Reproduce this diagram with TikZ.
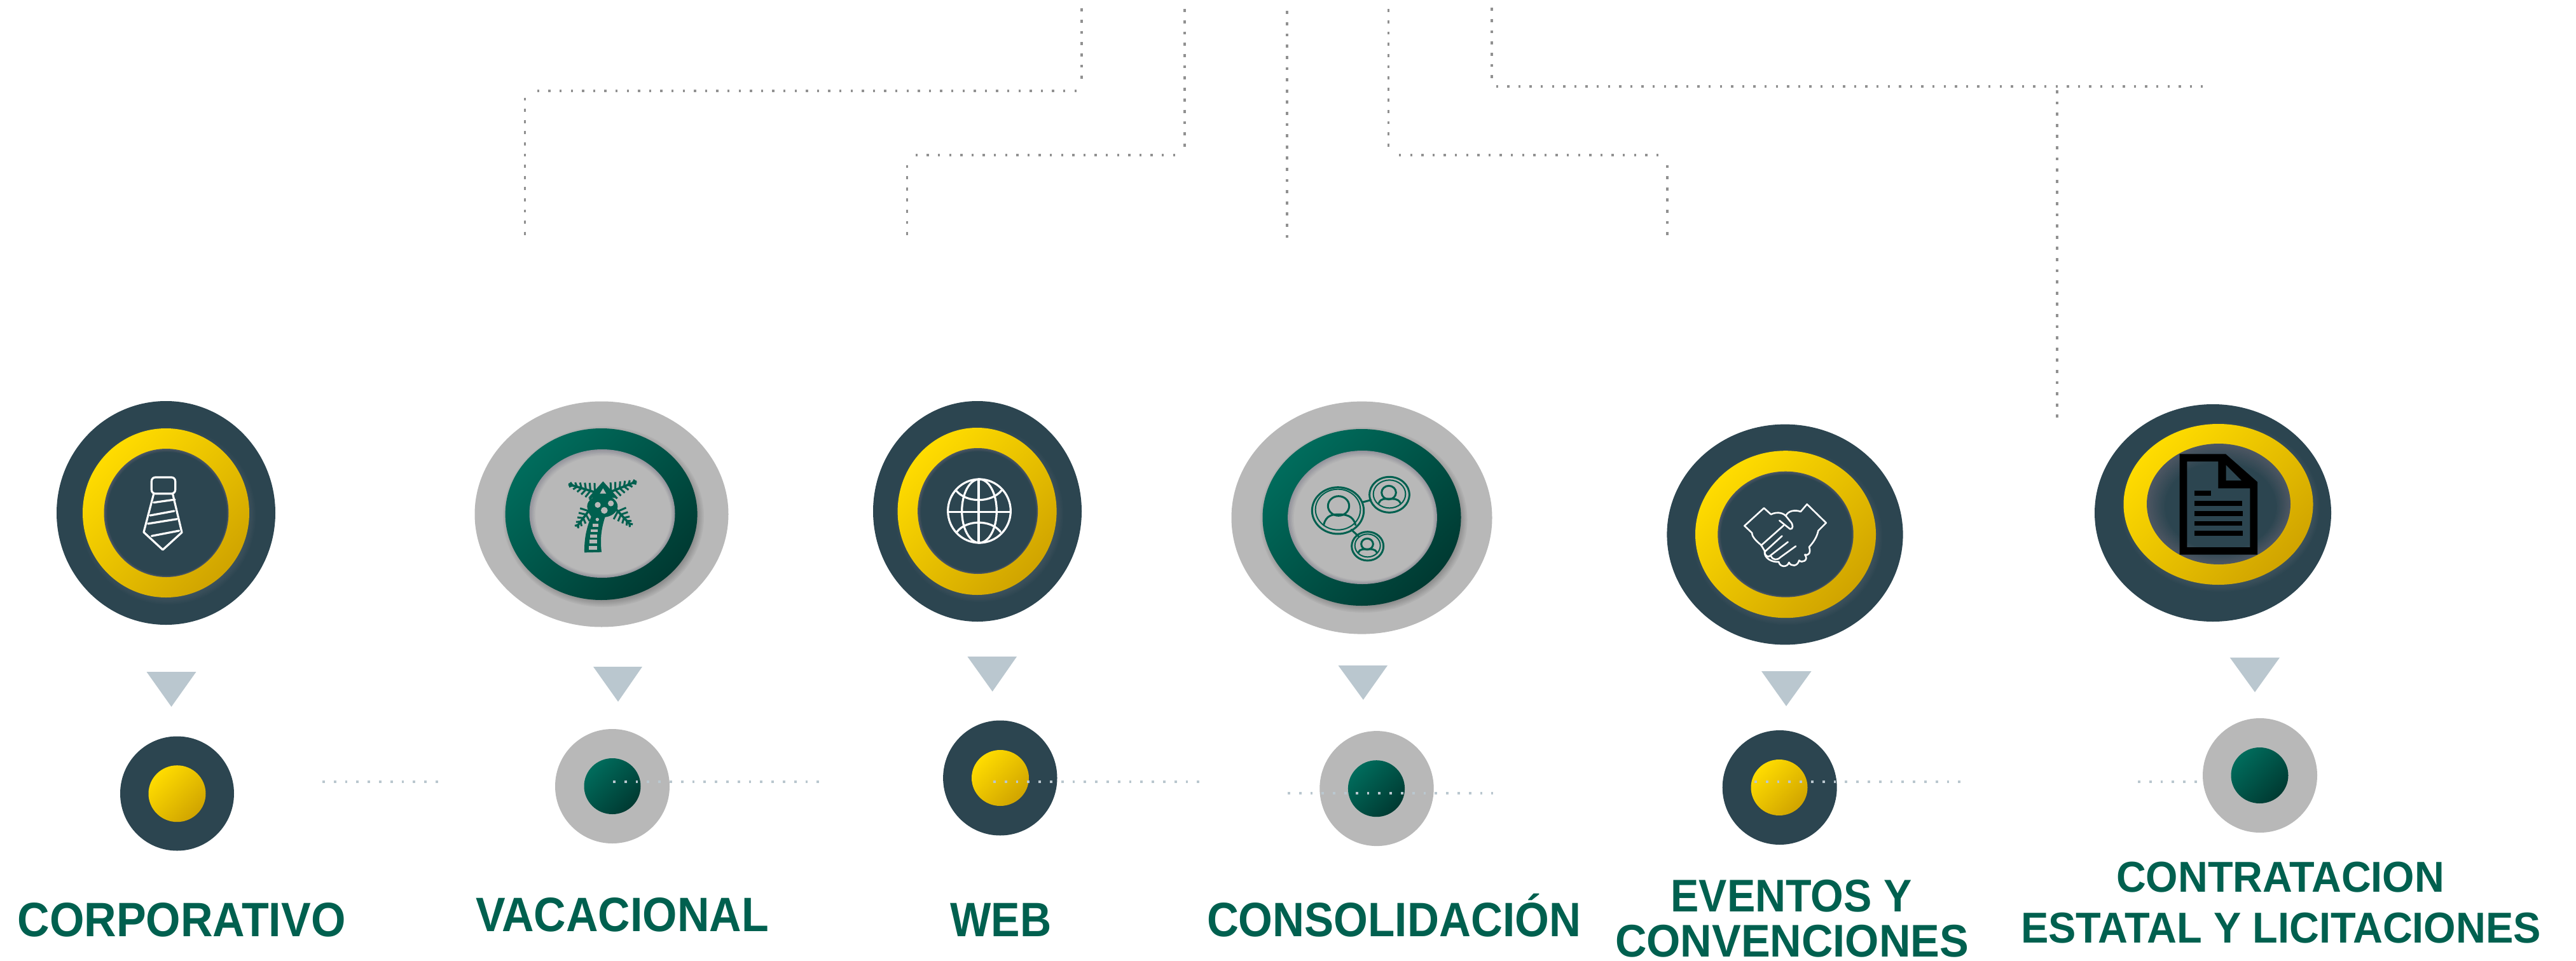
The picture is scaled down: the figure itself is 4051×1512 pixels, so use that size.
\documentclass[tikz,border=0pt]{standalone}
\usepackage{graphicx}
\usepackage{fontspec}
\setmainfont{Liberation Sans}
\usetikzlibrary{shapes.geometric}
\definecolor{slate}{HTML}{2C4550}
\definecolor{silver}{HTML}{B8B8B8}
\definecolor{tri}{HTML}{BAC7CF}
\definecolor{txt}{HTML}{00604F}
\definecolor{goldA}{HTML}{FFDC00}
\definecolor{goldB}{HTML}{D0A400}
\definecolor{greenA}{HTML}{006C5C}
\definecolor{greenB}{HTML}{003A32}
\definecolor{glowD}{HTML}{4C5662}
\definecolor{glowG}{HTML}{94949C}
\definecolor{haloD}{HTML}{6E7884}
\tikzset{
  x=1pt,y=-1pt,
  disc/.style={ellipse,inner sep=0pt,outer sep=0pt,draw=none},
  darkdisc/.style={disc,fill=slate},
  greydisc/.style={disc,fill=silver},
  goldring/.style={disc,shade,top color=goldA,bottom color=goldB,shading angle=45},
  greenring/.style={disc,shade,top color=greenA,bottom color=greenB,shading angle=45},
  topv/.style={draw=black!43,line width=3.4pt,dash pattern=on 4.8pt off 12.8pt},
  toph/.style={draw=black!43,line width=4.6pt,dash pattern=on 3.4pt off 14.2pt},
  lowdots/.style={draw=tri,line width=4.4pt,dash pattern=on 3.8pt off 14pt},
  arrowtri/.style={fill=tri,draw=none},
  lbl/.style={anchor=base,inner sep=0pt,outer sep=0pt,text=txt},
  icw/.style={draw=white,line width=3.2pt,line join=round,line cap=round},
  icg/.style={draw=txt,line width=3pt,line join=round,line cap=round},
}
\newcommand\ellnode[6]{\node[#1,minimum width=2*#5pt,minimum height=2*#6pt] (#2) at (#3,#4) {};}
% cx cy rx ry colour opacity
\newcommand\softshadow[6]{\foreach \k in {0,...,6}{\fill[#5,opacity=#6] (#1+3,#2+4) ellipse [x radius=#3+7-2*\k,y radius=#4+7-2*\k];}}
% cx cy rx ry glow base width steps
\newcommand\innerglow[8]{\foreach \k in {1,...,#8}{\pgfmathsetmacro\mixv{100-100*\k/#8}\fill[color=#5!\mixv!#6] (#1+\k*0.25,#2+\k*0.3) ellipse [x radius=#3-\k*#7/#8,y radius=#4-\k*#7/#8];}}
\newcommand\lbltxt[3]{\resizebox{#2pt}{\height}{\fontsize{#1pt}{#1pt}\selectfont\bfseries #3}}
% x y angle length ticks
\newcommand\frond[5]{\begin{scope}[shift={(#1,#2)},rotate=#3]
  \draw[draw=txt,line width=3.6pt,line cap=butt] (0,0)--(#4,0);
  \foreach \t in {#5}{\pgfmathsetmacro\hh{44*(1.12-\t/#4)}\draw[draw=txt,line width=3pt,line cap=butt] (\t+14,\hh)--(\t,0)--(\t+14,-\hh);}
\end{scope}}
\begin{document}
\begin{tikzpicture}
\useasboundingbox (0,0) rectangle (4051,1512);
\fill[white] (0,0) rectangle (4051,1512);
% --- top dotted routes
\coordinate (a0) at (1701,13.5);\coordinate (a1) at (1701,124);\coordinate (a2) at (1693,143);\coordinate (a3) at (845,143);\coordinate (a4) at (825.5,153.5);\coordinate (a5) at (825.5,370);
\coordinate (b0) at (1863,14.5);\coordinate (b1) at (1863,231);\coordinate (b2) at (1848,244);\coordinate (b3) at (1439,244);\coordinate (b4) at (1426.6,259.5);\coordinate (b5) at (1426.6,371);
\coordinate (c0) at (2024,17.5);\coordinate (c1) at (2024,375);
\coordinate (d0) at (2183.7,14.5);\coordinate (d1) at (2183.7,231);\coordinate (d2) at (2200,243.8);\coordinate (d3) at (2609,243.8);\coordinate (d4) at (2622,259.5);\coordinate (d5) at (2622,371);
\coordinate (e0) at (2346,12.5);\coordinate (e1) at (2346,124);\coordinate (e2) at (2352.5,136);\coordinate (e3) at (3464,136);\coordinate (e4) at (3235,142);\coordinate (e5) at (3235,658);
\draw[topv] (a0)--(a1);\draw[toph] (a2)--(a3);\draw[topv] (a4)--(a5);
\draw[topv] (b0)--(b1);\draw[toph] (b2)--(b3);\draw[topv] (b4)--(b5);
\draw[topv] (c0)--(c1);
\draw[topv] (d0)--(d1);\draw[toph] (d2)--(d3);\draw[topv] (d4)--(d5);
\draw[topv] (e0)--(e1);\draw[toph] (e2)--(e3);\draw[topv] (e4)--(e5);
% --- big discs
\ellnode{darkdisc}{o1}{261}{807}{172}{176}
\softshadow{261}{807}{131}{133}{haloD}{.05}
\ellnode{goldring}{r1}{261}{807}{131}{133}
\ellnode{disc,fill=glowD}{i1}{261.5}{807}{98}{101}
\innerglow{261.5}{807}{98}{101}{glowD}{slate}{4}{4}
\ellnode{greydisc}{o2}{946}{809}{199.5}{177.5}
\softshadow{946}{809}{151}{135}{black}{.04}
\ellnode{greenring}{r2}{945.6}{809}{151}{135}
\ellnode{disc,fill=glowG}{i2}{947}{808}{114.5}{101}
\innerglow{947}{808}{114.5}{101}{glowG}{silver}{8}{7}
\ellnode{darkdisc}{o3}{1537}{804.5}{164}{173.5}
\softshadow{1537}{804.5}{125}{131.5}{haloD}{.05}
\ellnode{goldring}{r3}{1536.6}{804.5}{125}{131.5}
\ellnode{disc,fill=glowD}{i3}{1537.6}{804}{94.5}{99}
\innerglow{1537.6}{804}{94.5}{99}{glowD}{slate}{4}{4}
\ellnode{greydisc}{o4}{2141.5}{814.6}{205}{183}
\softshadow{2141.5}{814}{156}{139}{black}{.04}
\ellnode{greenring}{r4}{2141.5}{814}{156}{139}
\ellnode{disc,fill=glowG}{i4}{2142.5}{814}{117.4}{105}
\innerglow{2142.5}{814}{117.4}{105}{glowG}{silver}{8}{7}
\ellnode{darkdisc}{o5}{2807}{841}{185.6}{173.4}
\softshadow{2808}{840.7}{142}{131.5}{haloD}{.05}
\ellnode{goldring}{r5}{2808}{840.7}{142}{131.5}
\ellnode{disc,fill=glowD}{i5}{2808}{840.7}{106.7}{99}
\innerglow{2808}{840.7}{106.7}{99}{glowD}{slate}{4}{4}
\ellnode{darkdisc}{o6}{3480}{807}{186}{171}
\softshadow{3488.5}{793.5}{149}{126.5}{haloD}{.05}
\ellnode{goldring}{r6}{3488.5}{793.5}{149}{126.5}
\ellnode{disc,fill=glowD}{i6}{3489}{793}{113}{95}
\innerglow{3489}{793}{113}{95}{glowD}{slate}{26}{13}
% --- triangles
\fill[arrowtri] (230.5,1057)--(308.5,1057)--(269.5,1112)--cycle;
\fill[arrowtri] (933,1049)--(1010,1049)--(972,1104)--cycle;
\fill[arrowtri] (1521.4,1033)--(1599,1033)--(1560.7,1088)--cycle;
\fill[arrowtri] (2104.5,1047)--(2182,1047)--(2143.8,1101)--cycle;
\fill[arrowtri] (2770,1056)--(2848.5,1056)--(2809,1111)--cycle;
\fill[arrowtri] (3506.7,1034.6)--(3585,1034.6)--(3546,1089)--cycle;
% --- small discs
\ellnode{darkdisc}{s1}{278.5}{1248.5}{89.5}{90}
\ellnode{goldring}{n1}{278.5}{1248.7}{45}{44.5}
\ellnode{greydisc}{s2}{963}{1237}{90}{90}
\ellnode{greenring}{n2}{963}{1237}{44.5}{44}
\ellnode{darkdisc}{s3}{1572.8}{1224}{89.7}{90.5}
\ellnode{goldring}{n3}{1573}{1224}{45}{44}
\ellnode{greydisc}{s4}{2165}{1240.6}{89.7}{90.5}
\ellnode{greenring}{n4}{2164.5}{1240.7}{44.6}{44.5}
\ellnode{darkdisc}{s5}{2798.7}{1239}{90}{90}
\ellnode{goldring}{n5}{2798}{1239}{44.5}{44}
\ellnode{greydisc}{s6}{3554}{1220}{90}{90}
\ellnode{greenring}{n6}{3553.5}{1220}{45}{44}
% --- lower dotted runs
\coordinate (l1a) at (507,1230);\coordinate (l1b) at (692,1230);
\coordinate (l2a) at (964,1230);\coordinate (l2b) at (1289,1230);
\coordinate (l3a) at (1562,1230);\coordinate (l3b) at (1887,1230);
\coordinate (l4a) at (2025,1248);\coordinate (l4b) at (2348,1248);
\coordinate (l5a) at (2759,1230);\coordinate (l5b) at (3085,1230);
\coordinate (l6a) at (3362,1230);\coordinate (l6b) at (3461,1230);
\draw[lowdots] (l1a)--(l1b);\draw[lowdots] (l2a)--(l2b);\draw[lowdots] (l3a)--(l3b);
\draw[lowdots] (l4a)--(l4b);\draw[lowdots] (l5a)--(l5b);\draw[lowdots] (l6a)--(l6b);
% --- tie
\begin{scope}[shift={(130,680)},scale=1/3]
  \draw[icw,rounded corners=6pt] (325,213) rectangle (437,290);
  \draw[icw] (335,292)--(288,472)--(378,555)--(468,473)--(425,292);
  \draw[icw] (335,332)--(435,318);
  \draw[icw] (318,393)--(432,372);
  \draw[icw] (308,432)--(445,410);
  \draw[icw] (325,490)--(455,465);
\end{scope}
% --- palm
\begin{scope}[shift={(840,700)},scale=1/3]
  \frond{315}{232}{163}{160}{30,52,74,96,118,140}
  \frond{335}{232}{22}{160}{30,52,74,96,118,140}
  \frond{272}{292}{233}{118}{25,46,67,88,106}
  \frond{378}{295}{-47}{115}{25,46,67,88,104}
  \fill[txt] (325,172)--(395,250)--(255,250)--cycle;
  \fill[silver] (325,205)--(340,230)--(310,230)--cycle;
  \fill[txt] (322,290) ellipse [x radius=72,y radius=52];
  \fill[txt] (237,508) .. controls (235,420) and (258,360) .. (280,315) -- (340,325) .. controls (318,385) and (310,440) .. (318,506) -- cycle;
  \foreach \ya/\yb/\xa/\xb in {476/494/258/297,448/464/260/297,424/438/263/298,398/412/268/300,372/386/276/304}{\fill[silver] (\xa,\ya) rectangle (\xb,\yb);}
  \fill[silver] (300,283) circle [radius=14];
  \fill[silver] (331,309) circle [radius=16];
  \fill[silver] (362,276) circle [radius=14];
  \fill[silver] (298,352) circle [radius=8];
\end{scope}
% --- globe
\begin{scope}[shift={(1470,730)},scale=1/3]
  \draw[icw] (210,222) circle [x radius=148,y radius=150];
  \draw[icw] (210,222) ellipse [x radius=82,y radius=150];
  \draw[icw] (62,227)--(358,227);
  \draw[icw] (207,72)--(207,372);
  \draw[icw] (100,125) .. controls (150,185) and (265,185) .. (315,125);
  \draw[icw] (105,320) .. controls (150,262) and (265,262) .. (310,320);
\end{scope}
% --- people
\begin{scope}[shift={(2030,720)},scale=1/3]
  \draw[icg] (222,250) ellipse [x radius=122,y radius=110];
  \draw[icg,line width=2pt] (222,245) ellipse [x radius=106,y radius=96];
  \draw[icg] (225,228) ellipse [x radius=50,y radius=46];
  \draw[icg] (155,318) .. controls (165,270) and (200,268) .. (225,268) .. controls (255,268) and (295,272) .. (305,318);
  \draw[icg] (465,175) ellipse [x radius=94,y radius=84];
  \draw[icg,line width=2pt] (465,172) ellipse [x radius=76,y radius=66];
  \draw[icg] (462,165) ellipse [x radius=34,y radius=32];
  \draw[icg] (415,215) .. controls (425,190) and (445,195) .. (462,195) .. controls (480,195) and (505,190) .. (517,215);
  \draw[icg] (362,418) ellipse [x radius=75,y radius=68];
  \draw[icg,line width=2pt] (362,415) ellipse [x radius=60,y radius=54];
  \draw[icg] (360,408) ellipse [x radius=28,y radius=26];
  \draw[icg] (318,448) .. controls (325,430) and (345,432) .. (360,432) .. controls (378,432) and (398,430) .. (406,448);
  \draw[icg] (340,210)--(378,200);
  \draw[icg] (285,340)--(320,372);
\end{scope}
% --- handshake
\begin{scope}[shift={(2720,770)},scale=1/3]
  \begin{scope}[icw/.append style={line width=2.6pt}]
  \draw[icw] (70,172)--(162,88)--(195,118) .. controls (215,108) and (245,105) .. (265,125) .. controls (275,100) and (310,95) .. (335,105)--(365,70)--(455,158)--(418,195) .. controls (412,225) and (395,250) .. (375,272) .. controls (385,300) and (370,315) .. (355,308) .. controls (375,335) and (340,350) .. (328,335) .. controls (320,365) and (290,365) .. (280,345) .. controls (270,372) and (235,365) .. (232,342) .. controls (200,345) and (160,325) .. (165,290) -- (148,262) .. controls (120,240) and (105,220) .. (105,205) -- cycle;
  \draw[icw] (235,147)--(285,187) .. controls (300,190) and (302,165) .. (285,150) -- (265,125);
  \draw[icw] (255,170)--(148,265);
  \draw[icw] (247,220)--(165,295) .. controls (165,315) and (185,325) .. (195,310) -- (275,248);
  \draw[icw] (195,315) .. controls (205,335) and (225,335) .. (240,320) -- (312,268);
\end{scope}
\end{scope}
% --- document
\begin{scope}[shift={(3400,690)},scale=1/3]
  \fill[black,even odd rule] (83,73)--(300,73)--(450,205)--(450,548)--(83,548)--cycle
    (118,108)--(265,108)--(265,235)--(415,235)--(415,513)--(118,513)--cycle
    (302,125)--(375,198)--(302,198)--cycle;
  \fill[black] (153,247) rectangle (231,270);
  \fill[black] (153,294) rectangle (379,317);
  \fill[black] (153,342) rectangle (381,366);
  \fill[black] (153,389) rectangle (379,412);
  \fill[black] (153,435) rectangle (381,459);
\end{scope}
% --- labels
\node[lbl] (tx1) at (285.5,1473) {\lbltxt{76}{516}{CORPORATIVO}};
\node[lbl] (tx2) at (978.5,1465) {\lbltxt{76}{461}{VACACIONAL}};
\node[lbl] (tx3) at (1574,1473) {\lbltxt{76}{159}{WEB}};
\node[lbl] (tx4) at (2192,1473) {\lbltxt{76}{588}{CONSOLIDACIÓN}};
\node[lbl] (tx5a) at (2817,1434) {\lbltxt{72}{379}{EVENTOS Y}};
\node[lbl] (tx5b) at (2818,1505) {\lbltxt{72}{556}{CONVENCIONES}};
\node[lbl] (tx6a) at (3586,1403) {\lbltxt{68}{516}{CONTRATACION}};
\node[lbl] (tx6b) at (3587,1483) {\lbltxt{68}{818}{ESTATAL Y LICITACIONES}};
\end{tikzpicture}
\end{document}
